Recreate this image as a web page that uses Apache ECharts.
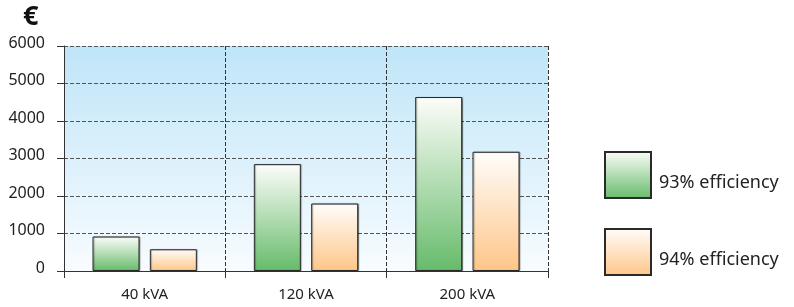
<!DOCTYPE html>
<html>
<head>
<meta charset="utf-8">
<style>
  html, body { margin: 0; padding: 0; background: #fff; }
  #main { width: 794px; height: 307px; }
</style>
<script src="https://cdn.jsdelivr.net/npm/echarts@6/dist/echarts.min.js"></script>
</head>
<body>
<div id="main"></div>
<script>
var categories = ['40 kVA', '120 kVA', '200 kVA'];
var eff93 = [920, 2850, 4640];
var eff94 = [580, 1800, 3180];
var seriesNames = ['93% efficiency', '94% efficiency'];

var chart = echarts.init(document.getElementById('main'));

function grad(top, bottom) {
  return new echarts.graphic.LinearGradient(0, 0, 0, 1, [
    { offset: 0, color: top },
    { offset: 1, color: bottom }
  ]);
}

var font = 'Noto Sans';

chart.setOption({
  animation: false,
  title: {
    text: '€',
    left: 23,
    top: 4,
    padding: 0,
    textStyle: { fontSize: 27, fontWeight: 'bold', color: '#111', fontFamily: font }
  },
  legend: {
    orient: 'vertical',
    left: 604,
    top: 151,
    padding: 0,
    itemWidth: 46,
    itemHeight: 46,
    itemGap: 29,
    icon: 'rect',
    data: seriesNames,
    formatter: function (name) { return '{t|' + name + '}'; },
    textStyle: {
      fontSize: 18, color: '#222', fontFamily: font,
      rich: { t: { fontSize: 18, color: '#222', fontFamily: font, padding: [15, 0, 0, 3] } }
    }
  },
  grid: {
    left: 64,
    right: 246,
    top: 46,
    bottom: 36,
    show: true,
    borderWidth: 0,
    backgroundColor: grad('#bfe5f8', '#f8fcff')
  },
  xAxis: {
    type: 'category',
    data: categories,
    axisLine: { lineStyle: { color: '#333', width: 1 } },
    axisTick: { show: true, length: 7, lineStyle: { color: '#333' } },
    axisLabel: { fontSize: 15, color: '#222', fontFamily: font, margin: 16 },
    splitLine: { show: true, lineStyle: { color: '#333', type: [4, 2], width: 1 } }
  },
  yAxis: {
    type: 'value',
    min: 0,
    max: 6000,
    interval: 1000,
    axisLine: { show: true, lineStyle: { color: '#333', width: 1 } },
    axisTick: { show: true, length: 7, lineStyle: { color: '#333' } },
    axisLabel: {
      color: '#222', fontSize: 16, fontFamily: font, margin: 19,
      formatter: function (v) { return '{n|' + v + '}'; },
      rich: { n: { fontSize: 16, color: '#222', fontFamily: font, padding: [0, 0, 6, 0] } }
    },
    splitLine: { show: true, lineStyle: { color: '#555', type: [4, 2], width: 1 } }
  },
  series: [
    {
      name: seriesNames[0],
      type: 'bar',
      data: eff93,
      barWidth: 47,
      barGap: '22%',
      itemStyle: {
        color: grad('#fdfdfa', '#66bb6a'),
        borderColor: '#2a2a2a',
        borderWidth: 1,
        shadowColor: 'rgba(0,0,0,0.35)',
        shadowOffsetX: 1,
        shadowBlur: 1
      }
    },
    {
      name: seriesNames[1],
      type: 'bar',
      data: eff94,
      barWidth: 47,
      itemStyle: {
        color: grad('#fffdfb', '#fec688'),
        borderColor: '#2a2a2a',
        borderWidth: 1,
        shadowColor: 'rgba(0,0,0,0.35)',
        shadowOffsetX: 1,
        shadowBlur: 1
      }
    }
  ]
});
</script>
</body>
</html>
